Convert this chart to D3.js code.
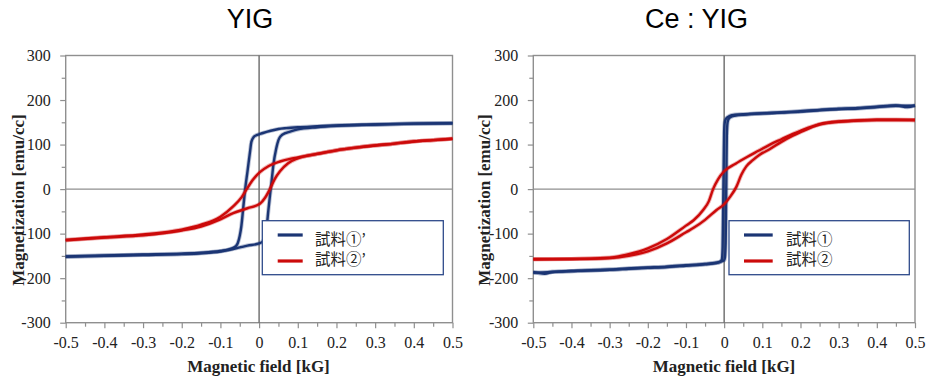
<!DOCTYPE html>
<html><head><meta charset="utf-8">
<script src="https://cdn.jsdelivr.net/npm/d3@7"></script>
<style>
html,body{margin:0;padding:0;background:#fff;}
svg{display:block;}
.serif{font-family:"Liberation Serif","Times New Roman",serif;}
.sans{font-family:"Liberation Sans",Arial,sans-serif;}
.cjk{font-family:"Noto Sans CJK JP",sans-serif;}
</style></head>
<body>
<svg id="chart" width="928" height="381"></svg>
<script>
// ---------- data ----------
const panelTitles = ["YIG", "Ce : YIG"];
const xAxisTitle = "Magnetic field [kG]";
const yAxisTitle = "Magnetization [emu/cc]";
const fieldTicks = [-0.5,-0.4,-0.3,-0.2,-0.1,0,0.1,0.2,0.3,0.4,0.5];
const fieldMinorTicks = [-0.45,-0.35,-0.25,-0.15,-0.05,0.05,0.15,0.25,0.35,0.45];
const magTicks = [-300,-200,-100,0,100,200,300];
const magMinorTicks = [-250,-150,-50,50,150,250];
const legendYIG = ["試料①’", "試料②’"];
const legendCe = ["試料①", "試料②"];

// YIG, sample 1' : descending-field branch (upper) and ascending-field branch (lower)
const yig1UpperX = [-0.5,-0.4,-0.3,-0.2,-0.15,-0.1,-0.08,-0.07,-0.06,-0.055,-0.05,-0.046,-0.041,-0.036,-0.03,-0.023,-0.02,-0.014,-0.007,0,0.01,0.03,0.05,0.07,0.1,0.15,0.2,0.3,0.4,0.5];
const yig1UpperY = [-151,-149,-147,-145,-143,-139,-136,-133,-128,-121,-105,-84,-42,0,40,87,106,117,121,123,126,131,135,137,139,141,143,145,147,148];
const yig1LowerX = [-0.5,-0.4,-0.3,-0.2,-0.15,-0.1,-0.07,-0.05,-0.03,0,0.01,0.016,0.02,0.024,0.028,0.032,0.037,0.044,0.05,0.057,0.066,0.08,0.1,0.15,0.2,0.3,0.4,0.5];
const yig1LowerY = [-152,-150,-148,-146,-144,-140,-135,-131,-127,-122,-117,-105,-82,-47,-15,15,55,90,110,120,125,129,134,139,142,145,147,148];
// YIG, sample 2'
const yig2UpperX = [-0.5,-0.4,-0.3,-0.2,-0.15,-0.1,-0.067,-0.045,-0.032,-0.015,0.002,0.025,0.054,0.08,0.1,0.15,0.2,0.25,0.3,0.35,0.4,0.45,0.5];
const yig2UpperY = [-114,-108,-102,-91,-80,-62,-39,-18,0,22,38,52,62,68,71,79,87,93,98,102,107,110,113];
const yig2LowerX = [-0.5,-0.4,-0.3,-0.2,-0.15,-0.1,-0.067,-0.03,0.002,0.015,0.028,0.04,0.054,0.075,0.1,0.15,0.2,0.25,0.3,0.35,0.4,0.45,0.5];
const yig2LowerY = [-115,-109,-104,-93,-84,-68,-54,-43,-33,-20,0,22,40,58,69,79,87,93,98,102,107,110,113];
// Ce:YIG, sample 1
const ce1UpperX = [-0.5,-0.47,-0.45,-0.4,-0.35,-0.3,-0.25,-0.2,-0.15,-0.1,-0.05,-0.02,-0.01,-0.006,-0.004,-0.003,-0.002,-0.001,0,0.002,0.005,0.01,0.02,0.05,0.1,0.15,0.2,0.25,0.3,0.35,0.4,0.45,0.5];
const ce1UpperY = [-186,-190,-186,-184,-182,-181,-179,-177,-175,-172,-169,-166,-163,-158,-130,-70,0,70,130,152,158,162,166,168,170,172,174,177,180,181,184,187,187];
const ce1LowerX = [-0.5,-0.45,-0.4,-0.35,-0.3,-0.25,-0.2,-0.15,-0.1,-0.05,-0.02,-0.01,0,0.002,0.004,0.005,0.006,0.007,0.009,0.012,0.02,0.03,0.05,0.1,0.15,0.2,0.25,0.3,0.35,0.4,0.45,0.48,0.5];
const ce1LowerY = [-188,-186,-184,-183,-181,-178,-176,-174,-171,-168,-165,-163,-160,-154,-120,-40,40,120,150,158,163,165,167,170,172,175,178,180,182,185,188,184,188];
// Ce:YIG, sample 2
const ce2UpperX = [-0.5,-0.4,-0.3,-0.25,-0.2,-0.15,-0.1,-0.08,-0.055,-0.04,-0.029,-0.016,0,0.03,0.06,0.09,0.12,0.15,0.18,0.2,0.25,0.3,0.35,0.4,0.45,0.5];
const ce2UpperY = [-157,-157,-154,-146,-133,-112,-82,-70,-47,-27,0,22,40,57,72,86,100,112,124,131,146,152,154,156,156,155];
const ce2LowerX = [-0.5,-0.4,-0.3,-0.25,-0.2,-0.15,-0.1,-0.08,-0.05,-0.02,0,0.015,0.032,0.045,0.058,0.075,0.093,0.12,0.15,0.18,0.2,0.25,0.3,0.4,0.5];
const ce2LowerY = [-158,-157,-155,-150,-140,-122,-97,-87,-69,-47,-34,-18,5,32,51,65,77,90,106,120,128,145,151,155,155];

const blue = "#1b3574", red = "#cc0a0a";

// ---------- layout ----------
const panels = [
  { title: panelTitles[0], titleX: 250, left: 65.7, right: 452.5, xTitleX: 258.5, yTitleX: 18,
    legend: legendYIG, lg: {x: 262.3, w: 181, lineX1: 277.7, lineX2: 302.7, textX: 315},
    series: [
      {color: blue, branches: [[yig1UpperX, yig1UpperY],[yig1LowerX, yig1LowerY]]},
      {color: red, branches: [[yig2UpperX, yig2UpperY],[yig2LowerX, yig2LowerY]]}
    ]},
  { title: panelTitles[1], titleX: 696.5, left: 533.3, right: 915, xTitleX: 724, yTitleX: 484.5,
    legend: legendCe, lg: {x: 729, w: 180.3, lineX1: 744, lineX2: 772.7, textX: 786},
    series: [
      {color: blue, branches: [[ce1UpperX, ce1UpperY],[ce1LowerX, ce1LowerY]]},
      {color: red, branches: [[ce2UpperX, ce2UpperY],[ce2LowerX, ce2LowerY]]}
    ]}
];
const plotTop = 55.5, plotBottom = 322.7;

const svg = d3.select("#chart");
const fmt = d => String(Math.round(d * 10) / 10);

panels.forEach(p => {
  const x = d3.scaleLinear().domain([-0.5, 0.5]).range([p.left, p.right]);
  const y = d3.scaleLinear().domain([-300, 300]).range([plotBottom, plotTop]);
  const g = svg.append("g");

  // title
  g.append("text").attr("class", "sans").attr("x", p.titleX).attr("y", 28).attr("text-anchor", "middle")
    .style("font-size", "27px").attr("fill", "#000").text(p.title);

  // frame
  g.append("rect").attr("x", x(-0.5)).attr("y", y(300)).attr("width", x(0.5) - x(-0.5)).attr("height", y(-300) - y(300))
    .attr("fill", "none").attr("stroke", "#8f8f8f").attr("stroke-width", 1.4);

  // axes
  const axL = g.append("g").attr("transform", `translate(${x(-0.5)},0)`)
    .call(d3.axisLeft(y).tickValues(magTicks).tickFormat(d => String(d)).tickSize(5.5).tickPadding(9.5));
  const axLm = g.append("g").attr("transform", `translate(${x(-0.5)},0)`)
    .call(d3.axisLeft(y).tickValues(magMinorTicks).tickFormat("").tickSize(4));
  const axB = g.append("g").attr("transform", `translate(0,${y(-300)})`)
    .call(d3.axisBottom(x).tickValues(fieldTicks).tickFormat(fmt).tickSize(5.5).tickPadding(8.5));
  const axBm = g.append("g").attr("transform", `translate(0,${y(-300)})`)
    .call(d3.axisBottom(x).tickValues(fieldMinorTicks).tickFormat("").tickSize(4));
  [axL, axLm, axB, axBm].forEach(a => {
    a.attr("font-family", null).attr("font-size", null);
    a.select(".domain").remove();
    a.selectAll(".tick line").attr("stroke", "#8f8f8f").attr("stroke-width", 1.2);
    a.selectAll(".tick text").attr("class", "serif").style("font-size", "16px").attr("fill", "#222");
  });

  // zero lines
  g.append("line").attr("x1", x(-0.5)).attr("x2", x(0.5)).attr("y1", y(0)).attr("y2", y(0))
    .attr("stroke", "#8f8f8f").attr("stroke-width", 1.4);
  g.append("line").attr("x1", x(0)).attr("x2", x(0)).attr("y1", y(300)).attr("y2", y(-300))
    .attr("stroke", "#6a6a6a").attr("stroke-width", 1.4);

  // curves
  const line = d3.line().x(d => x(d[0])).y(d => y(d[1])).curve(d3.curveMonotoneX);
  p.series.forEach(s => {
    s.branches.forEach(([bx, by]) => {
      const pts = bx.map((v, i) => [v, by[i]]);
      g.append("path").attr("d", line(pts)).attr("fill", "none").attr("stroke", s.color)
        .attr("stroke-width", 4.2).attr("stroke-opacity", 0.3).attr("stroke-linejoin", "round");
      g.append("path").attr("d", line(pts)).attr("fill", "none").attr("stroke", s.color)
        .attr("stroke-width", 2.4).attr("stroke-linejoin", "round");
    });
  });

  // axis titles
  g.append("text").attr("class", "serif").attr("x", p.xTitleX).attr("y", 372).attr("text-anchor", "middle")
    .style("font-weight", "bold").style("font-size", "17px").attr("fill", "#222").text(xAxisTitle);
  g.append("text").attr("class", "serif").attr("transform", `translate(${p.yTitleX},200) rotate(-90)`)
    .attr("text-anchor", "middle").attr("dominant-baseline", "central")
    .style("font-weight", "bold").style("font-size", "17px").attr("fill", "#222").text(yAxisTitle);

  // legend
  const lg = p.lg;
  g.append("rect").attr("x", lg.x).attr("y", 220.7).attr("width", lg.w).attr("height", 54)
    .attr("fill", "#fff").attr("stroke", "#2e4a8a").attr("stroke-width", 1.3);
  const lineYs = [235, 261], textYs = [237.5, 257.5];
  [blue, red].forEach((c, i) => {
    g.append("line").attr("x1", lg.lineX1).attr("x2", lg.lineX2).attr("y1", lineYs[i]).attr("y2", lineYs[i])
      .attr("stroke", c).attr("stroke-width", 3.2);
    g.append("text").attr("class", "cjk").attr("x", lg.textX).attr("y", textYs[i]).attr("dominant-baseline", "central")
      .style("font-size", "15.5px").attr("fill", "#222").text(p.legend[i]);
  });
});
</script>
</body></html>
